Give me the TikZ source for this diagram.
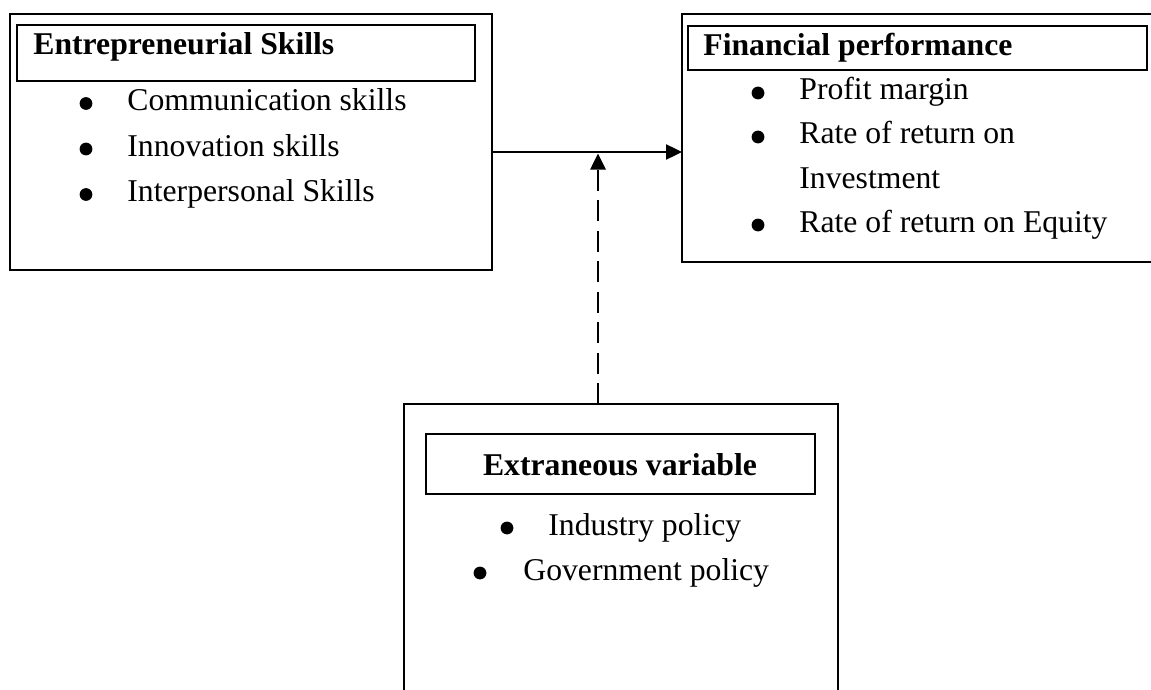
\documentclass[tikz,border=0pt]{standalone}
\usepackage{fontspec}
\setmainfont{Liberation Serif}
\usetikzlibrary{arrows.meta,fit,calc}
\begin{document}
\begin{tikzpicture}[x=0.5pt,y=-0.5pt,
  outerbox/.style={draw, line width=0.9pt, inner sep=0pt, outer sep=0pt},
  titlebox/.style={draw, line width=1.2pt, inner sep=0pt, outer sep=0pt},
  heading/.style={font=\fontsize{15.85pt}{19pt}\selectfont\bfseries, inner sep=0pt, anchor=base west},
  item/.style={font=\fontsize{15.85pt}{19pt}\selectfont, inner sep=0pt, anchor=base west},
  dot/.style={fill, circle, minimum size=6.4pt, inner sep=0pt},
  link/.style={line width=1.2pt, -{Triangle[length=8pt,width=7.5pt]}}]

\useasboundingbox (0,0) rectangle (1151,690);
\clip (0,0) rectangle (1151,690);

% independent variable
\node[outerbox, fit={(10,14) (492,270)}] (skills) {};
\node[titlebox, fit={(17,25) (475,81)}] (skillstitle) {};
\node[heading] (skillshead) at (33,55) {Entrepreneurial Skills};
\node[dot] (sb1) at (86,103.5) {};
\node[item] (si1) at (127,110.5) {Communication skills};
\node[dot] (sb2) at (86,149) {};
\node[item] (si2) at (127,156) {Innovation skills};
\node[dot] (sb3) at (86,194.5) {};
\node[item] (si3) at (127,201.5) {Interpersonal Skills};

% dependent variable (runs past the right edge)
\node[outerbox, fit={(682,14) (1162,262)}] (perf) {};
\node[titlebox, fit={(688,26) (1147,70)}] (perftitle) {};
\node[heading] (perfhead) at (703,56) {Financial performance};
\node[dot] (pb1) at (758,93) {};
\node[item] (pi1) at (799,100) {Profit margin};
\node[dot] (pb2) at (758,137) {};
\node[item] (pi2) at (799,144) {Rate of return on};
\node[item] (pi2b) at (799,188) {Investment};
\node[dot] (pb3) at (758,225) {};
\node[item] (pi3) at (799,232) {Rate of return on Equity};

% extraneous variable (runs past the bottom edge)
\node[outerbox, fit={(404,404) (838,702)}] (extr) {};
\node[titlebox, fit={(426,434) (815,494)}] (extrtitle) {};
\node[heading, anchor=base] (extrhead) at (620,475) {Extraneous variable};
\node[dot] (eb1) at (507,528) {};
\node[item] (ei1) at (548,535) {Industry policy};
\node[dot] (eb2) at (480,573) {};
\node[item] (ei2) at (523,580) {Government policy};

% connectors
\coordinate (hline) at (0,152);
\coordinate (vline) at (598,0);
\draw[link] (skills.east |- hline) -- (perf.west |- hline);
\draw[link, line width=1.3pt, dash pattern=on 10.5pt off 4.75pt]
  (extr.north -| vline) -- ($(vline |- hline)+(0,1.5)$);
\end{tikzpicture}
\end{document}
